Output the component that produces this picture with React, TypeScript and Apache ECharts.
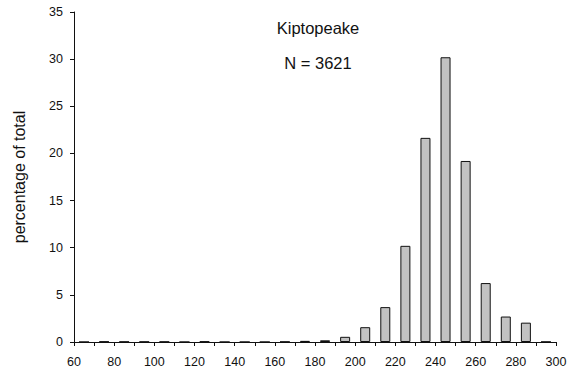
import React, { useEffect, useRef } from "react";
import * as echarts from "echarts";

// Bin centres (size class midpoints) and percentage of total in each bin
const binCenters = [65, 75, 85, 95, 105, 115, 125, 135, 145, 155, 165, 175, 185, 195, 205, 215, 225, 235, 245, 255, 265, 275, 285, 295];
const percentages = [0, 0.05, 0.03, 0.03, 0.03, 0, 0.06, 0, 0, 0, 0.03, 0.12, 0.18, 0.55, 1.57, 3.7, 10.2, 21.65, 30.2, 19.2, 6.25, 2.7, 2.05, 0.02];

const titleText = "Kiptopeake";
const subtitleText = "N = 3621";
const yAxisName = "percentage of total";

export default function App() {
  const ref = useRef<HTMLDivElement>(null);

  useEffect(() => {
    if (!ref.current) return;
    const chart = echarts.init(ref.current, null, { renderer: "svg" });
    const font = "'Liberation Sans', Arial, Helvetica, sans-serif";
    chart.setOption({
      animation: false,
      backgroundColor: "#ffffff",
      title: [
        {
          text: titleText,
          left: 318,
          top: 19,
          padding: 0,
          textAlign: "center",
          textStyle: { fontFamily: font, fontSize: 16.5, fontWeight: "normal", color: "#111" },
        },
        {
          text: subtitleText,
          left: 318,
          top: 54,
          padding: 0,
          textAlign: "center",
          textStyle: { fontFamily: font, fontSize: 16.5, fontWeight: "normal", color: "#111" },
        },
      ],
      grid: { left: 74, right: 14, top: 12, bottom: 35 },
      xAxis: {
        type: "value",
        min: 60,
        max: 300,
        interval: 20,
        axisLine: { show: true, lineStyle: { color: "#111", width: 1 } },
        axisTick: { show: true, length: 4, lineStyle: { color: "#111" } },
        minorTick: { show: true, splitNumber: 2, length: 4, lineStyle: { color: "#111" } },
        splitLine: { show: false },
        axisLabel: { fontFamily: font, fontSize: 12.5, color: "#111", margin: 13 },
      },
      yAxis: {
        type: "value",
        min: 0,
        max: 35,
        interval: 5,
        name: yAxisName,
        nameLocation: "middle",
        nameGap: 47,
        nameTextStyle: { fontFamily: font, fontSize: 16, color: "#111" },
        axisLine: { show: true, lineStyle: { color: "#111", width: 1 } },
        axisTick: { show: true, length: 4, lineStyle: { color: "#111" } },
        splitLine: { show: false },
        axisLabel: { fontFamily: font, fontSize: 12.5, color: "#111", margin: 11 },
      },
      series: [
        {
          type: "bar",
          barWidth: 10,
          data: binCenters.map((c, i) => [c, percentages[i]]),
          itemStyle: {
            color: "#c2c2c2",
            borderColor: "#111",
            borderWidth: 1,
          },
        },
      ],
    });
    return () => chart.dispose();
  }, []);

  return (
    <div
      ref={ref}
      style={{ position: "absolute", left: 0, top: 0, width: 570, height: 377 }}
    />
  );
}
